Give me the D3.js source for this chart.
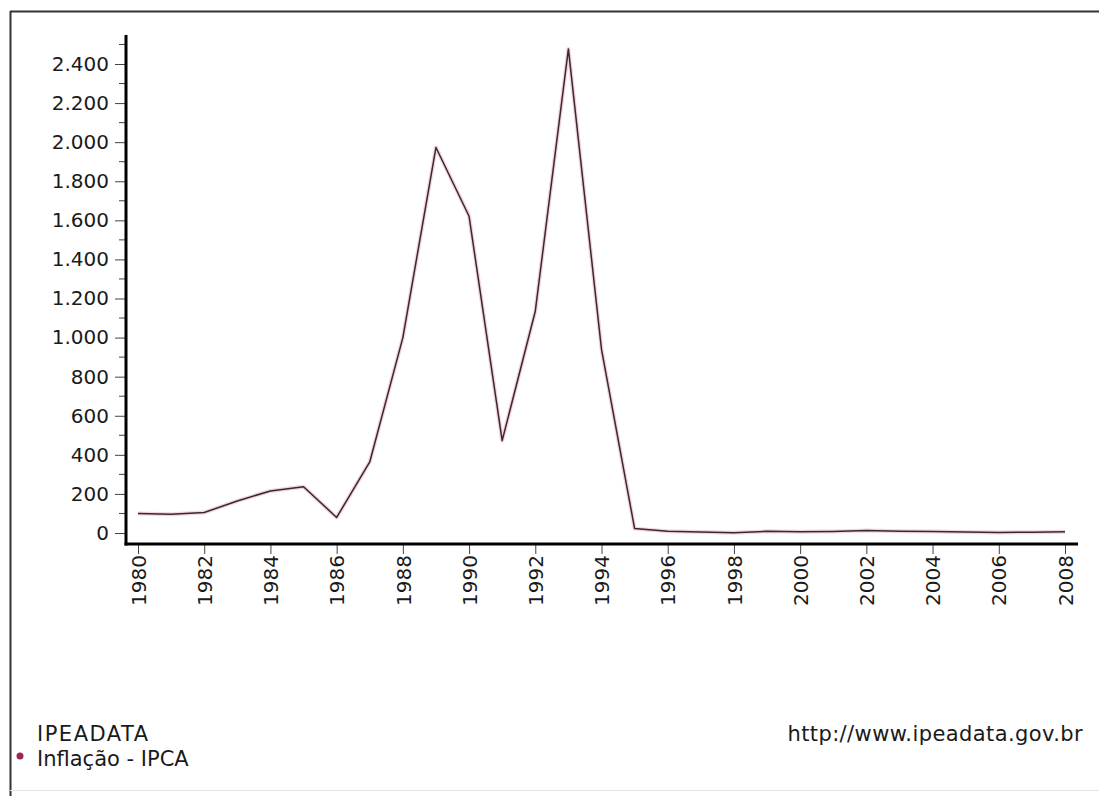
<!DOCTYPE html>
<html>
<head>
<meta charset="utf-8">
<script src="https://cdn.jsdelivr.net/npm/d3@7"></script>
<style>
  html, body { margin: 0; padding: 0; background: #ffffff; }
  svg { display: block; }
  text { font-family: "DejaVu Sans", Verdana, sans-serif; fill: #1a1a1a; }
</style>
</head>
<body>
<svg id="chart" width="1099" height="796"></svg>
<script>
// ---- Data ----
const years = [1980,1981,1982,1983,1984,1985,1986,1987,1988,1989,1990,1991,1992,1993,1994,
               1995,1996,1997,1998,1999,2000,2001,2002,2003,2004,2005,2006,2007,2008];
const ipca = [99.25,95.62,104.79,164.01,215.26,236.5,79.66,363.41,1000.0,1972.91,1620.97,472.70,1135.0,2477.15,940.0,
              22.41,9.56,5.22,1.65,8.94,5.97,7.67,12.53,9.30,7.60,5.69,3.14,4.46,5.90];
const yTickValues = [0,200,400,600,800,1000,1200,1400,1600,1800,2000,2200,2400];
const yMinorValues = [100,300,500,700,900,1100,1300,1500,1700,1900,2100,2300,2500];
const xTickYears = [1980,1982,1984,1986,1988,1990,1992,1994,1996,1998,2000,2002,2004,2006,2008];
const legendSource = "IPEADATA";
const legendSeries = "Inflação - IPCA";
const sourceUrl = "http://www.ipeadata.gov.br";

const svg = d3.select("#chart");

// frame
svg.append("line").attr("x1", 10).attr("x2", 1099).attr("y1", 11.5).attr("y2", 11.5)
  .attr("stroke", "#333").attr("stroke-width", 2);
svg.append("line").attr("x1", 10.5).attr("x2", 10.5).attr("y1", 11).attr("y2", 796)
  .attr("stroke", "#333").attr("stroke-width", 2);
svg.append("line").attr("x1", 10).attr("x2", 1099).attr("y1", 790.5).attr("y2", 790.5)
  .attr("stroke", "#e4e4e4").attr("stroke-width", 1);

// scales
const x = d3.scaleLinear().domain([1980, 2008]).range([138, 1065]);
const y = d3.scaleLinear().domain([0, 2400]).range([533, 64]);

const axisX = 126, axisY = 544;
const yTop = 35, xRight = 1078;

// Y axis ticks
const gy = svg.append("g").attr("transform", `translate(${axisX},0)`);
gy.call(d3.axisLeft(y).tickValues(yTickValues).tickSize(11).tickPadding(6)
  .tickFormat(d => d3.format(",")(d).replace(/,/g, ".")));
gy.select(".domain").remove();
gy.selectAll(".tick line").attr("stroke", "#444").attr("stroke-width", 1);
gy.selectAll(".tick text").style("font-size", "20px").style("font-family", "'DejaVu Sans', sans-serif").attr("fill", "#1a1a1a");
gy.selectAll(".minor").data(yMinorValues).enter().append("line")
  .attr("x1", -7).attr("x2", 0).attr("y1", d => y(d)).attr("y2", d => y(d))
  .attr("stroke", "#444").attr("stroke-width", 1);

// X axis ticks
const gx = svg.append("g").attr("transform", `translate(0,${axisY})`);
gx.call(d3.axisBottom(x).tickValues(xTickYears).tickSize(10).tickPadding(4).tickFormat(d3.format("d")));
gx.select(".domain").remove();
gx.selectAll(".tick line").attr("stroke", "#444").attr("stroke-width", 1);
gx.selectAll(".tick text")
  .style("font-size", "20px").style("font-family", "'DejaVu Sans', sans-serif")
  .attr("text-anchor", "end")
  .attr("transform", "rotate(-90)")
  .attr("x", -11).attr("y", 0).attr("dy", "0.36em");

// axis lines
svg.append("line").attr("x1", axisX).attr("x2", axisX).attr("y1", yTop).attr("y2", axisY + 1.5)
  .attr("stroke", "#000").attr("stroke-width", 3);
svg.append("line").attr("x1", axisX - 1.5).attr("x2", xRight).attr("y1", axisY).attr("y2", axisY)
  .attr("stroke", "#000").attr("stroke-width", 3);

// series line
const line = d3.line().x((d, i) => x(years[i])).y(d => y(d));
svg.append("path").datum(ipca).attr("d", line)
  .attr("fill", "none").attr("stroke", "#eab8c8").attr("stroke-width", 4).attr("stroke-opacity", 0.6)
  .attr("stroke-linejoin", "round");
svg.append("path").datum(ipca).attr("d", line)
  .attr("fill", "none").attr("stroke", "#3c2730").attr("stroke-width", 1.5)
  .attr("stroke-linejoin", "round");

// legend
svg.append("text").attr("x", 37).attr("y", 741).style("font-size", "21px").style("letter-spacing", "1.5px").text(legendSource);
svg.append("circle").attr("cx", 20).attr("cy", 756).attr("r", 3.5).attr("fill", "#9c2456");
svg.append("text").attr("x", 37).attr("y", 766).style("font-size", "21px").text(legendSeries);
svg.append("text").attr("x", 1083).attr("y", 741).attr("text-anchor", "end").style("font-size", "21px").style("letter-spacing", "0.4px").text(sourceUrl);
</script>
</body>
</html>
